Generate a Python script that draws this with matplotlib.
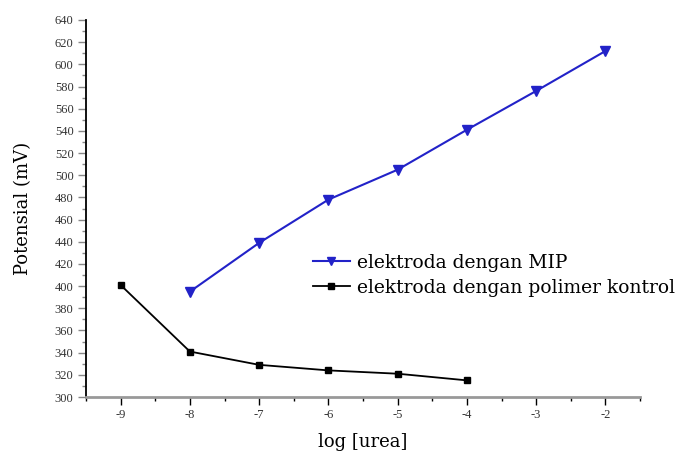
import matplotlib
matplotlib.use("Agg")
import matplotlib.pyplot as plt
from matplotlib.ticker import MultipleLocator

# Data
x_mip = [-8, -7, -6, -5, -4, -3, -2]
y_mip = [395, 439, 478, 505, 541, 576, 612]
x_ctrl = [-9, -8, -7, -6, -5, -4]
y_ctrl = [401, 341, 329, 324, 321, 315]
label_mip = "elektroda dengan MIP"
label_ctrl = "elektroda dengan polimer kontrol"
xlabel = "log [urea]"
ylabel = "Potensial (mV)"

fig = plt.figure(figsize=(6.86, 4.59), dpi=100)
ax = fig.add_axes([86/686, 1-397/459, (640-86)/686, (397-20)/459])

ax.plot(x_mip, y_mip, color="#2222c8", lw=1.5, marker="v", ms=6.5,
        label=label_mip)
ax.plot(x_ctrl, y_ctrl, color="black", lw=1.3, marker="s", ms=5,
        label=label_ctrl)

ax.set_xlim(-9.5, -1.5)
ax.set_ylim(300, 640)
ax.xaxis.set_major_locator(MultipleLocator(1))
ax.xaxis.set_minor_locator(MultipleLocator(0.5))
ax.yaxis.set_major_locator(MultipleLocator(20))
ax.yaxis.set_minor_locator(MultipleLocator(10))

for s in ["top", "right"]:
    ax.spines[s].set_visible(False)
ax.spines["left"].set_linewidth(1.3)
ax.spines["bottom"].set_linewidth(2.0)
ax.spines["bottom"].set_color("#999999")

ax.tick_params(which="major", direction="out", length=6, width=1,
               labelsize=9, pad=3, labelcolor="#333333")
ax.tick_params(which="minor", direction="out", length=3, width=1)
ax.tick_params(axis="y", which="both", color="#888888")

ax.set_xticks(ax.get_xticks())
ax.set_xticklabels([f"{int(v)}" for v in ax.get_xticks()])
ax.set_xlim(-9.5, -1.5)
for lbl in ax.get_xticklabels() + ax.get_yticklabels():
    lbl.set_family("Liberation Serif")

ax.set_xlabel(xlabel, family="DejaVu Serif", fontsize=13, labelpad=8)
ax.set_ylabel(ylabel, family="DejaVu Serif", fontsize=13, labelpad=16)

leg = ax.legend(loc="upper left", bbox_to_anchor=((305-86)/554, (397-246)/377),
                frameon=False, prop={"family": "DejaVu Serif", "size": 13.5},
                handlelength=2.0, handletextpad=0.35, labelspacing=0.4,
                borderaxespad=0, markerscale=0.85)

fig.savefig("out.png", dpi=100)
